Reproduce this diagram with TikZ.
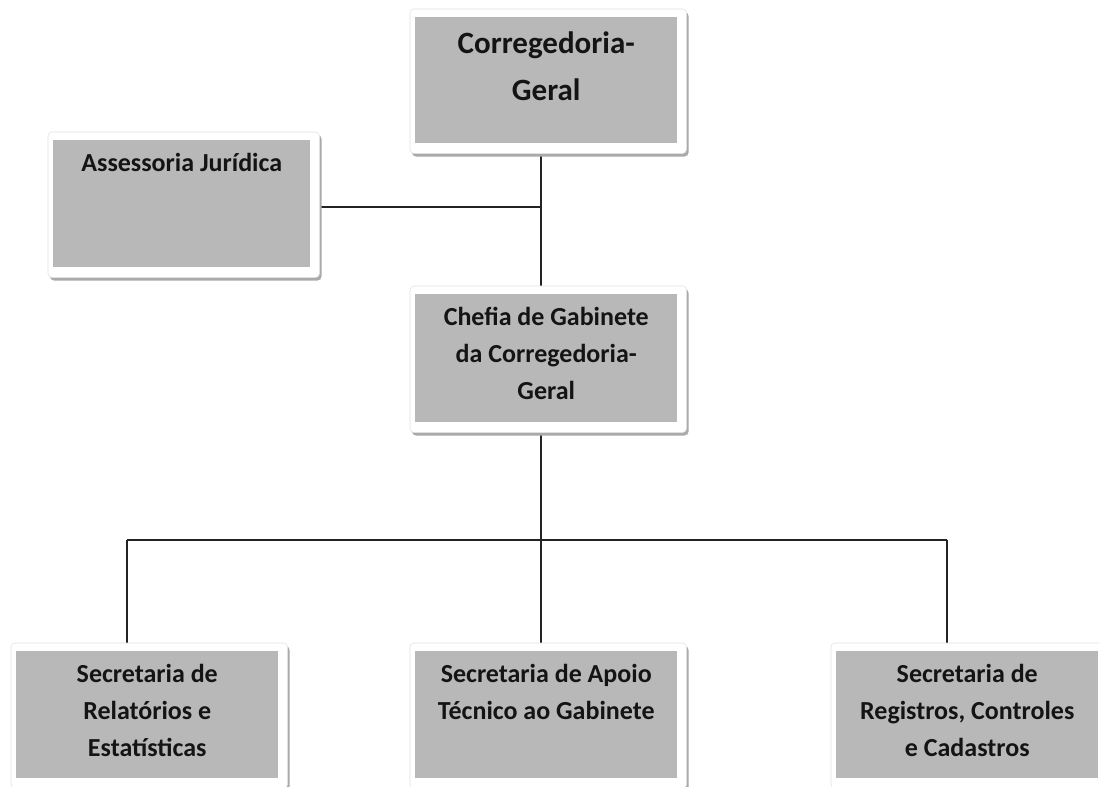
\documentclass[tikz,border=0pt]{standalone}
\usepackage{fontspec}
\setmainfont{Carlito}
\usetikzlibrary{backgrounds}
\pgfdeclarelayer{bottom}
\pgfsetlayers{bottom,background,main}
\definecolor{boxgray}{RGB}{184,184,184}
\definecolor{linegray}{RGB}{35,35,35}
\definecolor{shadowgray}{RGB}{170,170,170}
\newcommand\btxt[3]{\parbox[t][#2][t]{#1}{\centering\fontsize{19.5pt}{27.75pt}\selectfont\bfseries\rule{0pt}{23.25pt}#3}}
\newcommand\bigtxt[3]{\parbox[t][#2][t]{#1}{\centering\fontsize{23.25pt}{35.25pt}\selectfont\bfseries\rule{0pt}{27pt}#3}}
\newcommand\orgframe[1]{%
  \fill[shadowgray, rounded corners=3pt] ([shift={(-3,-5)}]#1.north west) rectangle ([shift={(11,13)}]#1.south east);
  \filldraw[fill=white, draw=black!12, rounded corners=3pt] ([shift={(-5,-8)}]#1.north west) rectangle ([shift={(9,10)}]#1.south east);}
\tikzset{
  box/.style={fill=boxgray, inner sep=0pt, anchor=north west, text=black!92},
  conn/.style={draw=linegray, line width=1.1pt}
}
\begin{document}
\begin{tikzpicture}[x=0.75pt, y=-0.75pt]
\useasboundingbox (0,0) rectangle (1099,787);
\begin{pgfonlayer}{bottom}
\fill[white] (0,0) rectangle (1099,787);
\end{pgfonlayer}
\node[box] (top) at (415,17) {\bigtxt{196.5pt}{94.5pt}{Corregedoria-\\Geral}};
\node[box] (assess) at (53,140) {\btxt{192.75pt}{95.25pt}{Assessoria Jurídica}};
\node[box] (chefia) at (415,294) {\btxt{196.5pt}{96pt}{Chefia de Gabinete\\da Corregedoria-\\Geral}};
\node[box] (bl) at (16,651) {\btxt{196.5pt}{95.25pt}{Secretaria de\\Relatórios e\\Estatísticas}};
\node[box] (bm) at (415,651) {\btxt{196.5pt}{95.25pt}{Secretaria de Apoio\\Técnico ao Gabinete}};
\node[box] (br) at (836,651) {\btxt{196.5pt}{95.25pt}{Secretaria de\\Registros, Controles\\e Cadastros}};
\coordinate (hub) at (541,207);
\coordinate (bus) at (541,540);
\coordinate (busl) at (127,540);
\coordinate (busr) at (947,540);
\begin{scope}[on background layer]
\draw[conn] (top.south -| hub) -- (chefia.north -| hub);
\draw[conn] (assess.east |- hub) -- (hub);
\draw[conn] (chefia.south -| bus) -- (bus);
\draw[conn] (busl) -- (busr);
\draw[conn] (busl) -- (busl |- bl.north);
\draw[conn] (bus) -- (bus |- bm.north);
\draw[conn] (busr) -- (busr |- br.north);
\orgframe{top}
\orgframe{assess}
\orgframe{chefia}
\orgframe{bl}
\orgframe{bm}
\orgframe{br}
\end{scope}
\end{tikzpicture}
\end{document}
